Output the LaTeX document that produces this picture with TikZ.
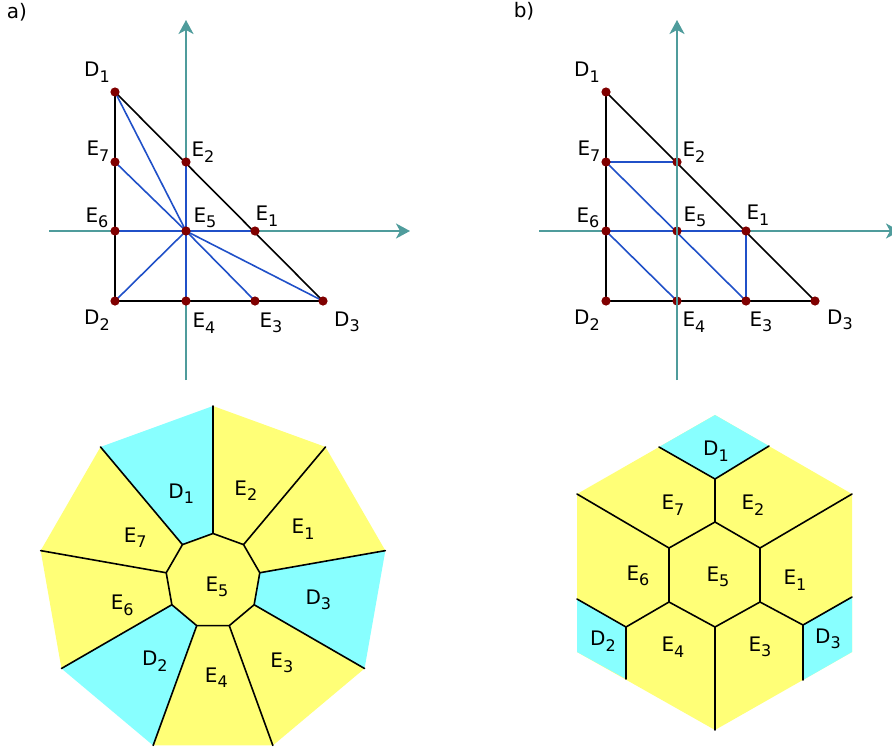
\documentclass[tikz,border=0pt]{standalone}
\usepackage{fontspec}
\setmainfont{DejaVu Sans}
\usepackage{tikz}
\usetikzlibrary{arrows.meta}
\definecolor{axisteal}{HTML}{4F9C9C}
\definecolor{edgeblue}{HTML}{2050C8}
\definecolor{dotred}{HTML}{800000}
\definecolor{cellyellow}{HTML}{FFFF77}
\definecolor{cellcyan}{HTML}{88FFFF}
\newcommand{\lsub}[1]{\raisebox{-5.5pt}{\fontsize{16}{18}\selectfont #1}}

\begin{document}
\begin{tikzpicture}[
    x=1pt, y=-1pt,
    font=\fontsize{20}{24}\selectfont,
    axis/.style={-{Stealth[length=14pt, width=15pt, inset=4pt]}, line width=2pt, draw=axisteal},
    side/.style={line width=1.6pt, draw=black},
    mesh/.style={line width=1.6pt, draw=edgeblue},
    cellline/.style={line width=1.6pt, draw=black, line cap=round},
    lbl/.style={inner sep=0pt}
  ]
    \useasboundingbox (0,0) rectangle (892,750);

    % panel a: triangle with star mesh
    \node[lbl] (alabel) at (17,12) {a)};
    \coordinate (aD1) at (115,92);
    \coordinate (aD2) at (115,301);
    \coordinate (aD3) at (323,301);
    \coordinate (aE1) at (255,231);
    \coordinate (aE2) at (186,162);
    \coordinate (aE3) at (255,301);
    \coordinate (aE4) at (186,301);
    \coordinate (aE5) at (186,231);
    \coordinate (aE6) at (115,231);
    \coordinate (aE7) at (115,162);
    \coordinate (aXl) at (49,231);
    \coordinate (aXr) at (410,231);
    \coordinate (aYb) at (186,380);
    \coordinate (aYt) at (186,20);

    \draw[axis] (aXl) -- (aXr);
    \draw[axis] (aYb) -- (aYt);
    \draw[side] (aD1) -- (aD2) -- (aD3) -- cycle;
    \draw[mesh] (aD1) -- (aE5);
    \draw[mesh] (aE7) -- (aE5);
    \draw[mesh] (aE6) -- (aE1);
    \draw[mesh] (aE2) -- (aE4);
    \draw[mesh] (aD2) -- (aE5);
    \draw[mesh] (aE5) -- (aE3);
    \draw[mesh] (aE5) -- (aD3);
    \foreach \p in {aD1,aD2,aD3,aE1,aE2,aE3,aE4,aE5,aE6,aE7}
      \fill[dotred] (\p) circle (4.6pt);

    \node[lbl] at (97,72)   {D\lsub{1}};
    \node[lbl] at (98,151)  {E\lsub{7}};
    \node[lbl] at (97,218)  {E\lsub{6}};
    \node[lbl] at (97,320)  {D\lsub{2}};
    \node[lbl] at (203,152) {E\lsub{2}};
    \node[lbl] at (205,218) {E\lsub{5}};
    \node[lbl] at (267,216) {E\lsub{1}};
    \node[lbl] at (204,323) {E\lsub{4}};
    \node[lbl] at (271,323) {E\lsub{3}};
    \node[lbl] at (347,322) {D\lsub{3}};

    % panel b: triangle with regular mesh
    \node[lbl] (blabel) at (524,11) {b)};
    \coordinate (bD1) at (606,92);
    \coordinate (bD2) at (606,301);
    \coordinate (bD3) at (815,301);
    \coordinate (bE1) at (746,231);
    \coordinate (bE2) at (677,162);
    \coordinate (bE3) at (746,301);
    \coordinate (bE4) at (677,301);
    \coordinate (bE5) at (677,231);
    \coordinate (bE6) at (606,231);
    \coordinate (bE7) at (606,162);
    \coordinate (bXl) at (539,231);
    \coordinate (bXr) at (900,231);
    \coordinate (bYb) at (677,380);
    \coordinate (bYt) at (677,20);

    \draw[axis] (bXl) -- (bXr);
    \draw[side] (bD1) -- (bD2) -- (bD3) -- cycle;
    \draw[mesh] (bE7) -- (bE2);
    \draw[mesh] (bE7) -- (bE3);
    \draw[mesh] (bE6) -- (bE1);
    \draw[mesh] (bE6) -- (bE4);
    \draw[mesh] (bE1) -- (bE3);
    \foreach \p in {bD1,bD2,bD3,bE1,bE2,bE3,bE4,bE5,bE6,bE7}
      \fill[dotred] (\p) circle (4.6pt);
    \draw[axis] (bYb) -- (bYt);

    \node[lbl] at (587,72)  {D\lsub{1}};
    \node[lbl] at (589,151) {E\lsub{7}};
    \node[lbl] at (588,218) {E\lsub{6}};
    \node[lbl] at (587,320) {D\lsub{2}};
    \node[lbl] at (694,152) {E\lsub{2}};
    \node[lbl] at (695,217) {E\lsub{5}};
    \node[lbl] at (758,215) {E\lsub{1}};
    \node[lbl] at (694,322) {E\lsub{4}};
    \node[lbl] at (761,322) {E\lsub{3}};
    \node[lbl] at (840,320) {D\lsub{3}};

    % nonagon cells of a
    \begin{scope}[shift={(213,581)}, y=1pt]
      \foreach \a/\c in {130/cellcyan, 90/cellyellow, 50/cellyellow, 10/cellcyan,
                         -30/cellyellow, -70/cellyellow, -110/cellcyan,
                         -150/cellyellow, -190/cellyellow}
        \fill[\c] (\a:47.5) -- (\a:175) -- (\a-40:175) -- (\a-40:47.5) -- cycle;
      \foreach \a in {90,50,...,-230}
        \draw[cellline] (\a:47.5) -- (\a:175);
      \filldraw[cellyellow, cellline] (90:47.5)
        \foreach \a in {50,10,...,-230} { -- (\a:47.5) } -- cycle;
      \foreach \a/\r/\t in {110/93/D\lsub{1}, 70/96/E\lsub{2},
                            30/104/E\lsub{1}, -10/107/D\lsub{3},
                            -50/107/E\lsub{3}, -88/97/E\lsub{4},
                            -126/99/D\lsub{2}, -165/94/E\lsub{6},
                            151/89/E\lsub{7}}
        \node[lbl] at (\a:\r) {\t};
      \node[lbl] at (4,-6) {E\lsub{5}};
    \end{scope}

    % hexagon cells of b
    \coordinate (O1) at (715,415);
    \coordinate (O2) at (852,494);
    \coordinate (O3) at (852,652);
    \coordinate (O4) at (715,730);
    \coordinate (O5) at (577,652);
    \coordinate (O6) at (577,494);
    \coordinate (I1) at (715,522);
    \coordinate (I2) at (760,548);
    \coordinate (I3) at (760,602);
    \coordinate (I4) at (715,627);
    \coordinate (I5) at (669,602);
    \coordinate (I6) at (669,548);
    \coordinate (Q1) at (715,479);
    \coordinate (P1l) at (659,447);
    \coordinate (P1r) at (769,446);
    \coordinate (Q3) at (803,625);
    \coordinate (P3a) at (852,597);
    \coordinate (P3b) at (803,680);
    \coordinate (Q2) at (626,627);
    \coordinate (P2a) at (577,599);
    \coordinate (P2b) at (626,679);

    \fill[cellyellow] (O1) -- (O2) -- (O3) -- (O4) -- (O5) -- (O6) -- cycle;
    \fill[cellcyan] (O1) -- (P1r) -- (Q1) -- (P1l) -- cycle;
    \fill[cellcyan] (Q3) -- (P3a) -- (O3) -- (P3b) -- cycle;
    \fill[cellcyan] (Q2) -- (P2a) -- (O5) -- (P2b) -- cycle;
    \draw[cellline] (I1) -- (I2) -- (I3) -- (I4) -- (I5) -- (I6) -- cycle;
    \draw[cellline] (P1l) -- (Q1) -- (P1r);
    \draw[cellline] (Q1) -- (I1);
    \draw[cellline] (I2) -- (O2);
    \draw[cellline] (I6) -- (O6);
    \draw[cellline] (I4) -- (O4);
    \draw[cellline] (I3) -- (Q3);
    \draw[cellline] (P3a) -- (Q3) -- (P3b);
    \draw[cellline] (I5) -- (Q2);
    \draw[cellline] (P2a) -- (Q2) -- (P2b);

    \node[lbl] at (716,451) {D\lsub{1}};
    \node[lbl] at (673,505) {E\lsub{7}};
    \node[lbl] at (753,505) {E\lsub{2}};
    \node[lbl] at (638,576) {E\lsub{6}};
    \node[lbl] at (718,577) {E\lsub{5}};
    \node[lbl] at (795,580) {E\lsub{1}};
    \node[lbl] at (603,641) {D\lsub{2}};
    \node[lbl] at (673,647) {E\lsub{4}};
    \node[lbl] at (760,647) {E\lsub{3}};
    \node[lbl] at (828,639) {D\lsub{3}};
\end{tikzpicture}
\end{document}
